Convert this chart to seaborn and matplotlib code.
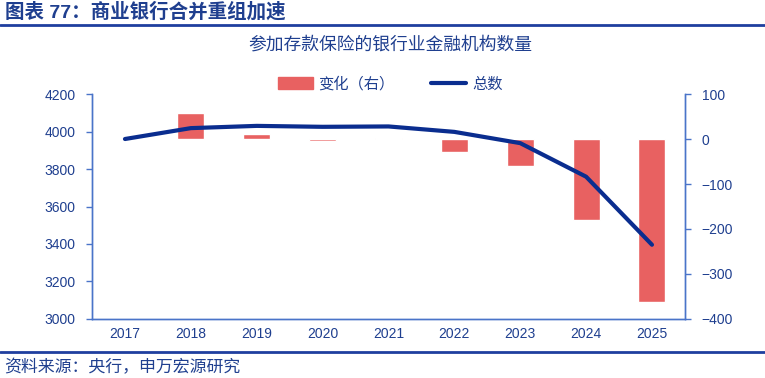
import numpy as np
import pandas as pd
import matplotlib
matplotlib.use('Agg')
import matplotlib.pyplot as plt
import seaborn as sns
from matplotlib.lines import Line2D
from matplotlib.patches import Patch

# ---- data ----
years = ['2017', '2018', '2019', '2020', '2021', '2022', '2023', '2024', '2025']
total = [3960, 4018, 4030, 4025, 4027, 3998, 3938, 3759, 3396]
change = [0, 58, 12, -5, 2, -29, -60, -179, -363]

title = '图表 77：商业银行合并重组加速'
subtitle = '参加存款保险的银行业金融机构数量'
source = '资料来源：央行，申万宏源研究'

BAR_C = '#E86161'
LINE_C = '#0A2D8F'
TXT_C = '#1F3F8F'
AX_C = '#4A74C9'

sns.set_theme(style='white')
plt.rcParams['font.family'] = ['Liberation Sans', 'Noto Sans CJK SC', 'DejaVu Sans']

df = pd.DataFrame({'year': years, 'total': total, 'change': change})

fig = plt.figure(figsize=(7.65, 3.78), dpi=100)
ax = fig.add_axes([0.1203, 0.1561, 0.775, 0.5952])
ax2 = ax.twinx()

# bars on right axis, line on left axis drawn on top
sns.barplot(data=df, x='year', y='change', order=years, color=BAR_C,
            width=0.41, saturation=1, ax=ax2)
sns.lineplot(x=np.arange(len(years)), y=df['total'], color=LINE_C,
             linewidth=3, ax=ax)
ax.set_zorder(ax2.get_zorder() + 1)
ax.patch.set_visible(False)

ax.set_xlim(-0.5, len(years) - 0.5)
ax.set_ylim(3000, 4200)
ax.set_yticks(np.arange(3000, 4201, 200))
ax2.set_ylim(-400, 100)
ax2.set_yticks(np.arange(-400, 101, 100))

# x ticks at category boundaries, labels at centres
ax.set_xticks(np.arange(-0.5, len(years), 1))
ax.set_xticklabels([])
ax.set_xticks(np.arange(len(years)), minor=True)
ax.set_xticklabels(years, minor=True)
ax.tick_params(axis='x', which='major', direction='in', length=4, color=AX_C, width=1)
ax.tick_params(axis='x', which='minor', length=0, pad=6, labelsize=10, labelcolor=TXT_C)
ax.tick_params(axis='y', direction='out', length=4, color=AX_C, width=1,
               labelsize=10, labelcolor=TXT_C, pad=8)
ax2.tick_params(axis='y', direction='out', length=4, color=AX_C, width=1,
                labelsize=10, labelcolor=TXT_C, pad=8)
for a in (ax, ax2):
    a.set_xlabel('')
    a.set_ylabel('')
    a.grid(False)
    a.spines['top'].set_visible(False)
    for s in ('left', 'right', 'bottom'):
        a.spines[s].set_color(AX_C)
        a.spines[s].set_linewidth(1)

# legend
handles = [Patch(color=BAR_C, label='变化（右）'),
           Line2D([0], [0], color=LINE_C, linewidth=3, label='总数')]
fig.legend(handles=handles, loc='center', bbox_to_anchor=(0.51, 1 - 84 / 378),
           ncol=2, frameon=False, fontsize=11, labelcolor=TXT_C,
           handlelength=2.3, handleheight=0.9, columnspacing=2.4, handletextpad=0.35)

# titles and source
fig.text(0.006, 1 - 12 / 378, title, fontsize=14, fontweight='bold', color=TXT_C,
         va='center', ha='left')
fig.add_artist(Line2D([0, 1], [1 - 25 / 378] * 2, color='#1F3F9F', linewidth=2))
fig.text(390 / 765, 1 - 45 / 378, subtitle, fontsize=12.8, color=TXT_C,
         va='center', ha='center')
fig.add_artist(Line2D([0, 1], [1 - 352 / 378] * 2, color='#1F3F9F', linewidth=2))
fig.text(0.006, 1 - 367 / 378, source, fontsize=12.2, color=TXT_C,
         va='center', ha='left')

fig.savefig('out.png', dpi=100)
